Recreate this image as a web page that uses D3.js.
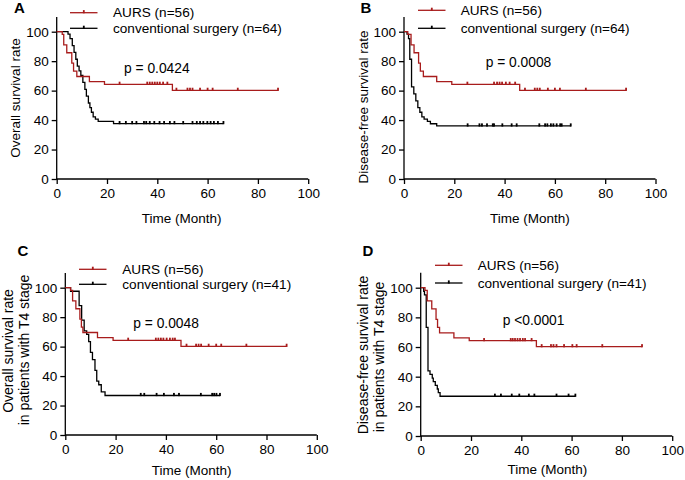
<!DOCTYPE html>
<html><head><meta charset="utf-8">
<script src="https://cdn.jsdelivr.net/npm/d3@7"></script>
<style>
body{margin:0;background:#fff}
text{font-family:Arial,"Liberation Sans",Helvetica,sans-serif;fill:#000}
</style>
</head><body>
<svg id="chart" width="685" height="480"></svg>
<script>
// ---------- DATA ----------
const xTicks = [0, 20, 40, 60, 80, 100];
const yTicks = [0, 20, 40, 60, 80, 100];
const panelLetters = ["A", "B", "C", "D"];
const legendAurs = "AURS (n=56)";
const legendConvAll = "conventional surgery (n=64)";
const legendConvT4 = "conventional surgery (n=41)";
const pValues = ["p = 0.0424", "p = 0.0008", "p = 0.0048", "p <0.0001"];
const yTitles = [["Overall survival rate"], ["Disease-free survival rate"],
  ["Overall survival rate", "in patients with T4 stage"],
  ["Disease-free survival rate", "in patients with T4 stage"]];
const xTitle = "Time (Month)";

// A: overall survival, all patients  [month, survival %]
const osAurs = [[0,100],[2.2,98.2],[2.8,91.1],[4,85.7],[6,78.6],[6.7,73.2],[8,69.6],[13,66.1],[19,64.3],[46,60.2],[88,60.2]];
const osAursCens = [25,36,37,38,39,40,41,42.3,44,47.6,52,53,54,57,60,62,72,88];
const osConv = [[0,100],[4.5,98.4],[5.3,95.3],[6.2,90.6],[6.9,85.9],[7.6,81.3],[8.2,76.6],[8.9,73.4],[9.6,70.3],[10.4,65.6],[11.2,60.9],[11.8,56.3],[12.6,51.6],[13.2,48.4],[13.8,45.3],[14.5,42.2],[15.4,40.6],[16.5,39.1],[22.6,37.6],[66.3,37.6]];
const osConvCens = [25,27.5,30,31.7,34.7,35.6,37,38.8,40.9,42.7,45,46.8,50.3,54,55.7,57,58.3,59.9,61.2,62.5,64.1,66.3];

// B: disease-free survival, all patients
const dfsAurs = [[0,100],[1.5,98.2],[2.8,91.1],[4,85.7],[5.8,78.6],[6.5,73.2],[7.7,69.6],[13,66.1],[19,64.3],[46,60.2],[88.3,60.2]];
const dfsAursCens = [25.2,35.8,37,38,39,40.5,42,44.2,48.1,52,53,54,57.2,60,62,72.3,88.3];
const dfsConv = [[0,100],[1.2,98.4],[1.8,95.3],[2.3,81.3],[3,62.5],[3.9,57.8],[4.7,53.1],[5.5,48.4],[6.3,45.3],[7.1,42.2],[8,40.6],[9.3,39.1],[10.5,37.5],[13,36],[66.3,36]];
const dfsConvCens = [25.3,30,31,33,35.3,35.8,39.1,42.8,44.8,53.8,56.1,57,58.4,59.4,60.7,62.1,62.7,66.3];

// C: overall survival, T4 stage
const osT4Aurs = [[0,100],[2.1,98.2],[2.9,91.1],[4.2,85.7],[5.8,78.6],[6.4,73.2],[7,69.6],[12.8,66.1],[19,64.3],[46,60.2],[88,60.2]];
const osT4AursCens = [25,36,37,38,39,40.3,41.6,42.7,43.6,48.2,52,53,54,57,60,62,72,88];
const osT4Conv = [[0,100],[2.1,97.6],[5.5,87.8],[6.5,78],[7.5,70.7],[8.5,68.3],[9.3,63.4],[10,56.1],[10.8,51.2],[11.8,43.9],[12.5,36.6],[13.3,34.1],[14.3,29.3],[15.8,26.8],[61.5,26.8]];
const osT4ConvCens = [30,31.4,36.3,39.2,43.2,45.2,53.9,58.4,59.2,60.1,61.5];

// D: disease-free survival, T4 stage
const dfsT4Aurs = [[0,100],[1.7,98.2],[2.6,91.1],[4.4,85.7],[6.1,78.6],[6.7,73.2],[7.5,69.6],[13.2,66.1],[19.3,64.3],[46,60.2],[88,60.2]];
const dfsT4AursCens = [25.2,35.8,36.6,37.5,38.5,39.5,40.6,41.5,44.1,48.1,51.8,52.8,54,57,60.3,62,72.2,88];
const dfsT4Conv = [[0,100],[1.2,97.6],[1.5,95.1],[2.2,73.2],[2.9,43.9],[3.7,41.5],[4.6,39],[5,36.6],[5.8,34.1],[6.6,31.7],[7,29.3],[7.7,26.8],[61.5,26.8]];
const dfsT4ConvCens = [29.5,31.9,36.2,39.2,43,45.2,54,58.8,61.5];

// ---------- LAYOUT ----------
const RED = "#a81c1c";
const panels = [
  {x0:56.7, y100:31.7, y0:179, aurs:osAurs, aursC:osAursCens, conv:osConv, convC:osConvCens, convLabel:legendConvAll,
   letter:[14,13], leg:[70,12.7,28.3,113], p:[124,68], yt:[[15,98,13.5]], xt:[181.7,218]},
  {x0:404, y100:31.7, y0:179, aurs:dfsAurs, aursC:dfsAursCens, conv:dfsConv, convC:dfsConvCens, convLabel:legendConvAll,
   letter:[360.5,13], leg:[418,10.3,28.3,460.7], p:[485.7,62.3], yt:[[363,107,13.5]], xt:[530,218]},
  {x0:65.3, y100:287.7, y0:435, aurs:osT4Aurs, aursC:osT4AursCens, conv:osT4Conv, convC:osT4ConvCens, convLabel:legendConvT4,
   letter:[17.5,256], leg:[79,269.3,284.3,122.3], p:[133.3,323.3], yt:[[8,351,14],[24,350,14]], xt:[191.7,470]},
  {x0:420.7, y100:287.7, y0:436, aurs:dfsT4Aurs, aursC:dfsT4AursCens, conv:dfsT4Conv, convC:dfsT4ConvCens, convLabel:legendConvT4,
   letter:[362.5,256], leg:[435,265.3,283,477.7], p:[502.7,320], yt:[[363.5,355,14],[379.5,357,14]], xt:[547.3,469.3]}
];
const W = 251.5;
const svg = d3.select("#chart");

function stepValue(steps, t){
  let v = steps[0][1];
  for (const s of steps){ if (s[0] <= t) v = s[1]; }
  return v;
}

panels.forEach((P, i) => {
  const x = d3.scaleLinear().domain([0,100]).range([P.x0, P.x0 + W]);
  const y = d3.scaleLinear().domain([0,100]).range([P.y0, P.y100]);
  const g = svg.append("g");

  // axes
  const ax = g.append("g").attr("transform", `translate(0,${P.y0})`)
    .call(d3.axisBottom(x).tickValues(xTicks).tickSize(5).tickSizeOuter(0).tickPadding(4));
  const ay = g.append("g").attr("transform", `translate(${P.x0},0)`)
    .call(d3.axisLeft(y).tickValues(yTicks).tickSize(5).tickSizeOuter(0).tickPadding(3));
  [ax, ay].forEach(a => {
    a.selectAll("path.domain").remove();
    a.selectAll("line").attr("stroke","#000").attr("stroke-width",1.3);
    a.selectAll("text").attr("font-size","13.5px").attr("fill","#000")
      .style("font-family","Arial, 'Liberation Sans', sans-serif");
  });
  g.append("line").attr("x1",P.x0).attr("x2",P.x0+W).attr("y1",P.y0).attr("y2",P.y0)
    .attr("stroke","#000").attr("stroke-width",1.3);
  g.append("line").attr("x1",P.x0).attr("x2",P.x0).attr("y1",P.y0+0.65).attr("y2",y(110))
    .attr("stroke","#000").attr("stroke-width",1.3);

  // curves
  const line = d3.line().x(d => x(d[0])).y(d => y(d[1])).curve(d3.curveStepAfter);
  const series = [
    {steps:P.conv, cens:P.convC, color:"#000"},
    {steps:P.aurs, cens:P.aursC, color:RED}
  ];
  series.forEach(s => {
    g.append("path").datum(s.steps).attr("d", line).attr("fill","none")
      .attr("stroke", s.color).attr("stroke-width", 1.3);
    g.selectAll(null).data(s.cens).enter().append("rect")
      .attr("x", d => x(d) - 0.9).attr("y", d => y(stepValue(s.steps, d)) - 2.6)
      .attr("width", 1.8).attr("height", 3.2).attr("fill", s.color);
  });

  // legend
  const [lx, ly1, ly2, tx] = P.leg;
  [[ly1, RED, legendAurs], [ly2, "#000", P.convLabel]].forEach(([ly, c, label]) => {
    g.append("line").attr("x1", lx).attr("x2", lx + 27.5).attr("y1", ly).attr("y2", ly)
      .attr("stroke", c).attr("stroke-width", 1.3);
    g.append("rect").attr("x", lx + 13.8 - 0.9).attr("y", ly - 2.6).attr("width", 1.8).attr("height", 3.2).attr("fill", c);
    g.append("text").attr("x", tx).attr("y", ly).attr("dy","0.35em").attr("font-size","13.6px").text(label);
  });

  // p value
  g.append("text").attr("x", P.p[0]).attr("y", P.p[1]).attr("dy","0.35em").attr("font-size","13.8px").text(pValues[i]);

  // panel letter
  g.append("text").attr("x", P.letter[0]).attr("y", P.letter[1]).attr("font-size","15px")
    .attr("font-weight","bold").text(panelLetters[i]);

  // y title
  yTitles[i].forEach((t, k) => {
    const [cx, cy, fs] = P.yt[k];
    g.append("text").attr("transform", `translate(${cx},${cy}) rotate(-90)`)
      .attr("text-anchor","middle").attr("dy","0.35em").attr("font-size", fs + "px").text(t);
  });

  // x title
  g.append("text").attr("x", P.xt[0]).attr("y", P.xt[1]).attr("dy","0.35em")
    .attr("text-anchor","middle").attr("font-size","13.5px").text(xTitle);
});
</script>
</body></html>
